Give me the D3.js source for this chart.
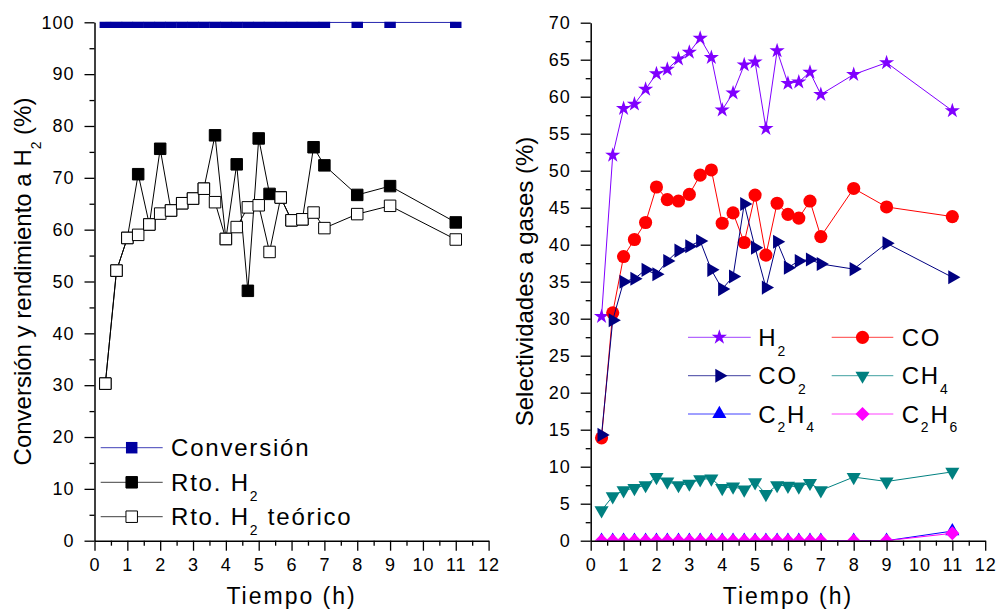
<!DOCTYPE html>
<html>
<head>
<meta charset="utf-8">
<script src="https://cdn.jsdelivr.net/npm/d3@7"></script>
<style>
  body { margin: 0; background: #fff; }
  svg { display: block; }
  text { font-family: "Liberation Sans", Arial, Helvetica, sans-serif; fill: #000; }
</style>
</head>
<body>
<svg id="chart" width="997" height="609"></svg>
<script>
// Sampling times (h)
const tiempo = [0.33, 0.67, 1, 1.33, 1.67, 2, 2.33, 2.67, 3, 3.33, 3.67, 4,
                4.33, 4.67, 5, 5.33, 5.67, 6, 6.33, 6.67, 7, 8, 9, 11];

// Left panel: conversion and H2 yield (%)
const conversion = [100, 100, 100, 100, 100, 100, 100, 100, 100, 100, 100, 100,
                    100, 100, 100, 100, 100, 100, 100, 100, 100, 100, 100, 100];
const rtoH2 = [30.3, 52.1, 58.4, 70.7, 61.0, 75.6, 63.7, 65.1, 66.0, 67.9, 78.2, 58.2,
               72.6, 48.2, 77.6, 66.9, 66.2, 61.8, 62.0, 75.9, 72.4, 66.7, 68.4, 61.4];
const rtoH2Teorico = [30.3, 52.1, 58.4, 59.0, 61.0, 63.1, 63.7, 65.1, 66.0, 67.9, 65.3, 58.2,
                      60.5, 64.3, 64.7, 55.7, 66.2, 61.8, 62.0, 63.3, 60.3, 63.0, 64.6, 58.1];

// Right panel: gas selectivities (%)
const selH2 = [30.3, 52.1, 58.4, 59.0, 61.0, 63.1, 63.7, 65.1, 66.0, 67.9, 65.3, 58.2,
               60.5, 64.3, 64.7, 55.7, 66.2, 61.8, 62.0, 63.3, 60.3, 63.0, 64.6, 58.1];
const selCO = [13.9, 30.8, 38.4, 40.7, 43.0, 47.8, 46.1, 45.9, 46.8, 49.4, 50.1, 42.9,
               44.3, 40.3, 46.7, 38.6, 45.6, 44.1, 43.6, 45.9, 41.1, 47.6, 45.1, 43.8];
const selCO2 = [14.3, 29.8, 35.0, 35.4, 36.6, 36.0, 37.8, 39.2, 39.8, 40.5, 36.6, 34.0,
                35.7, 45.5, 39.6, 34.2, 40.4, 36.9, 37.8, 38.0, 37.4, 36.7, 40.2, 35.6];
const selCH4 = [4.1, 6.0, 6.8, 7.1, 7.5, 8.6, 8.0, 7.5, 7.7, 8.3, 8.4, 7.1,
                7.3, 6.9, 7.9, 6.3, 7.5, 7.4, 7.3, 7.8, 6.8, 8.6, 8.0, 9.3];
const selC2H4 = [0, 0, 0, 0, 0, 0, 0, 0, 0, 0, 0, 0,
                 0, 0, 0, 0, 0, 0, 0, 0, 0, 0, 0, 1.3];
const selC2H6 = [0, 0, 0, 0, 0, 0, 0, 0, 0, 0, 0, 0,
                 0, 0, 0, 0, 0, 0, 0, 0, 0, 0, 0, 1.0];

// Tick labels
const xTickValues = [0, 1, 2, 3, 4, 5, 6, 7, 8, 9, 10, 11, 12];
const leftYTickValues = [0, 10, 20, 30, 40, 50, 60, 70, 80, 90, 100];
const rightYTickValues = [0, 5, 10, 15, 20, 25, 30, 35, 40, 45, 50, 55, 60, 65, 70];

const svg = d3.select("#chart");
const FONT_TICK = 18;

// Marker shapes
const sym = {
  square:   d3.symbol().type(d3.symbolSquare).size(132)(),
  star:     d3.symbol().type(d3.symbolStar).size(72)(),
  circle:   d3.symbol().type(d3.symbolCircle).size(136)(),
  triangle: d3.symbol().type(d3.symbolTriangle).size(86)(),
  diamond:  d3.symbol().type(d3.symbolSquare).size(98)()
};
const rot = { square: 0, star: 0, circle: 0, triRight: 90, triDown: 180, triUp: 0, diamond: 45 };
function shapePath(kind) {
  if (kind === "triRight" || kind === "triDown" || kind === "triUp") return sym.triangle;
  return sym[kind];
}

function drawAxes(g, x, y, yMajor, yMinorStep, yMax) {
  const xMinor = d3.range(0, 12.01, 0.5).filter(v => v % 1 !== 0);
  const yMinor = d3.range(0, yMax + 0.01, yMinorStep).filter(v => yMajor.indexOf(v) < 0);
  const [x0] = x.range();
  const [yBottom] = y.range();

  g.append("g").attr("transform", `translate(0,${yBottom})`)
    .call(d3.axisBottom(x).tickValues(xTickValues).tickFormat(d3.format("d"))
      .tickSize(10).tickPadding(8).tickSizeOuter(0));
  g.append("g").attr("transform", `translate(0,${yBottom})`)
    .call(d3.axisBottom(x).tickValues(xMinor).tickFormat("").tickSize(5).tickSizeOuter(0))
    .select(".domain").remove();

  g.append("g").attr("transform", `translate(${x0},0)`)
    .call(d3.axisLeft(y).tickValues(yMajor).tickFormat(d3.format("d"))
      .tickSize(10).tickPadding(10).tickSizeOuter(0));
  g.append("g").attr("transform", `translate(${x0},0)`)
    .call(d3.axisLeft(y).tickValues(yMinor).tickFormat("").tickSize(5).tickSizeOuter(0))
    .select(".domain").remove();

  g.selectAll(".domain").attr("stroke", "#000").attr("stroke-width", 1.5);
  g.selectAll(".tick line").attr("stroke", "#000").attr("stroke-width", 1.3);
  g.selectAll(".tick text")
    .style("font-size", FONT_TICK + "px")
    .style("letter-spacing", "1px")
    .style("font-family", '"Liberation Sans", Arial, sans-serif')
    .attr("fill", "#000");
}

function drawSeries(g, x, y, values, color, kind, fill, stroke) {
  const pts = tiempo.map((t, i) => [t, values[i]]);
  g.append("path")
    .datum(pts)
    .attr("fill", "none")
    .attr("stroke", color)
    .attr("stroke-width", 1)
    .attr("d", d3.line().x(d => x(d[0])).y(d => y(d[1])));
  g.selectAll(null)
    .data(pts)
    .enter().append("path")
    .attr("d", shapePath(kind))
    .attr("transform", d => `translate(${x(d[0])},${y(d[1])}) rotate(${rot[kind]})`)
    .attr("fill", fill)
    .attr("stroke", stroke)
    .attr("stroke-width", stroke === "none" ? 0 : 1);
}

function richText(sel, parts, size) {
  let shifted = false;
  parts.forEach(p => {
    const sub = Array.isArray(p);
    const t = sel.append("tspan").text(sub ? p[0] : p);
    if (sub) {
      t.style("font-size", (size * 0.58) + "px").attr("dy", size * 0.4);
      shifted = true;
    } else if (shifted) {
      t.attr("dy", -size * 0.4);
      shifted = false;
    }
  });
}

function legendItem(g, x1, x2, yRow, textX, color, kind, fill, stroke, parts) {
  g.append("line").attr("x1", x1).attr("x2", x2).attr("y1", yRow).attr("y2", yRow)
    .attr("stroke", color).attr("stroke-width", 1).attr("stroke-opacity", 0.75);
  g.append("path").attr("d", shapePath(kind))
    .attr("transform", `translate(${(x1 + x2) / 2},${yRow}) rotate(${rot[kind]})`)
    .attr("fill", fill).attr("stroke", stroke).attr("stroke-width", stroke === "none" ? 0 : 1);
  const t = g.append("text").attr("x", textX).attr("y", yRow + 8.6)
    .style("font-size", "24px").style("letter-spacing", "1.8px");
  richText(t, parts, 24);
}

/* ---------- Left panel ---------- */
const xL = d3.scaleLinear().domain([0, 12]).range([94.5, 488.6]);
const yL = d3.scaleLinear().domain([0, 100]).range([540.7, 22.3]);
const gL = svg.append("g");

svg.append("defs").append("clipPath").attr("id", "clipL")
  .append("rect").attr("x", 94.5).attr("y", 21.8).attr("width", 394.1).attr("height", 518.9);
svg.select("defs").append("clipPath").attr("id", "clipR")
  .append("rect").attr("x", 590.7).attr("y", 22.7).attr("width", 394.5).attr("height", 518);

const plotL = gL.append("g").attr("clip-path", "url(#clipL)");
drawSeries(plotL, xL, yL, conversion, "#0000A0", "square", "#0000A0", "none");
drawSeries(plotL, xL, yL, rtoH2, "#000", "square", "#000", "#000");
drawSeries(plotL, xL, yL, rtoH2Teorico, "#000", "square", "#fff", "#000");

drawAxes(gL, xL, yL, leftYTickValues, 5, 100);

legendItem(gL, 100.7, 162.7, 447.7, 171, "#0000A0", "square", "#0000A0", "none", ["Conversión"]);
legendItem(gL, 100.7, 162.7, 482.3, 171, "#000", "square", "#000", "#000", ["Rto. H", ["2"]]);
legendItem(gL, 100.7, 162.7, 516.7, 171, "#000", "square", "#fff", "#000", ["Rto. H", ["2"], " teórico"]);

gL.append("text").attr("x", (94.5 + 488.6) / 2).attr("y", 604)
  .attr("text-anchor", "middle").style("font-size", "23px").style("letter-spacing", "2px")
  .text("Tiempo (h)");

const tL = gL.append("text").attr("transform", "translate(31,281.5) rotate(-90)")
  .attr("text-anchor", "middle").style("font-size", "24px");
richText(tL, ["Conversión y rendimiento a H", ["2"], " (%)"], 24);

/* ---------- Right panel ---------- */
const xR = d3.scaleLinear().domain([0, 12]).range([590.7, 985.2]);
const yR = d3.scaleLinear().domain([0, 70]).range([540.7, 22.7]);
const gR = svg.append("g");
const plotR = gR.append("g").attr("clip-path", "url(#clipR)");

drawSeries(plotR, xR, yR, selH2, "#8000FF", "star", "#8000FF", "none");
drawSeries(plotR, xR, yR, selCO, "#FF0000", "circle", "#FF0000", "none");
drawSeries(plotR, xR, yR, selCO2, "#000080", "triRight", "#000080", "none");
drawSeries(plotR, xR, yR, selCH4, "#008080", "triDown", "#008080", "none");
drawSeries(plotR, xR, yR, selC2H4, "#0000FF", "triUp", "#0000FF", "none");
drawSeries(plotR, xR, yR, selC2H6, "#FF00FF", "diamond", "#FF00FF", "none");

drawAxes(gR, xR, yR, rightYTickValues, 2.5, 70);

legendItem(gR, 688, 750.7, 337.3, 758.3, "#8000FF", "star", "#8000FF", "none", ["H", ["2"]]);
legendItem(gR, 831.7, 893.3, 337.3, 901.7, "#FF0000", "circle", "#FF0000", "none", ["CO"]);
legendItem(gR, 688, 750.7, 375.7, 758.3, "#000080", "triRight", "#000080", "none", ["CO", ["2"]]);
legendItem(gR, 831.7, 893.3, 375.7, 901.7, "#008080", "triDown", "#008080", "none", ["CH", ["4"]]);
legendItem(gR, 688, 750.7, 414, 758.3, "#0000FF", "triUp", "#0000FF", "none", ["C", ["2"], "H", ["4"]]);
legendItem(gR, 831.7, 893.3, 414, 901.7, "#FF00FF", "diamond", "#FF00FF", "none", ["C", ["2"], "H", ["6"]]);

gR.append("text").attr("x", (590.7 + 985.2) / 2).attr("y", 604)
  .attr("text-anchor", "middle").style("font-size", "23px").style("letter-spacing", "2px")
  .text("Tiempo (h)");

const tR = gR.append("text").attr("transform", "translate(533,281.5) rotate(-90)")
  .attr("text-anchor", "middle").style("font-size", "24px");
richText(tR, ["Selectividades a gases (%)"], 24);
</script>
</body>
</html>
